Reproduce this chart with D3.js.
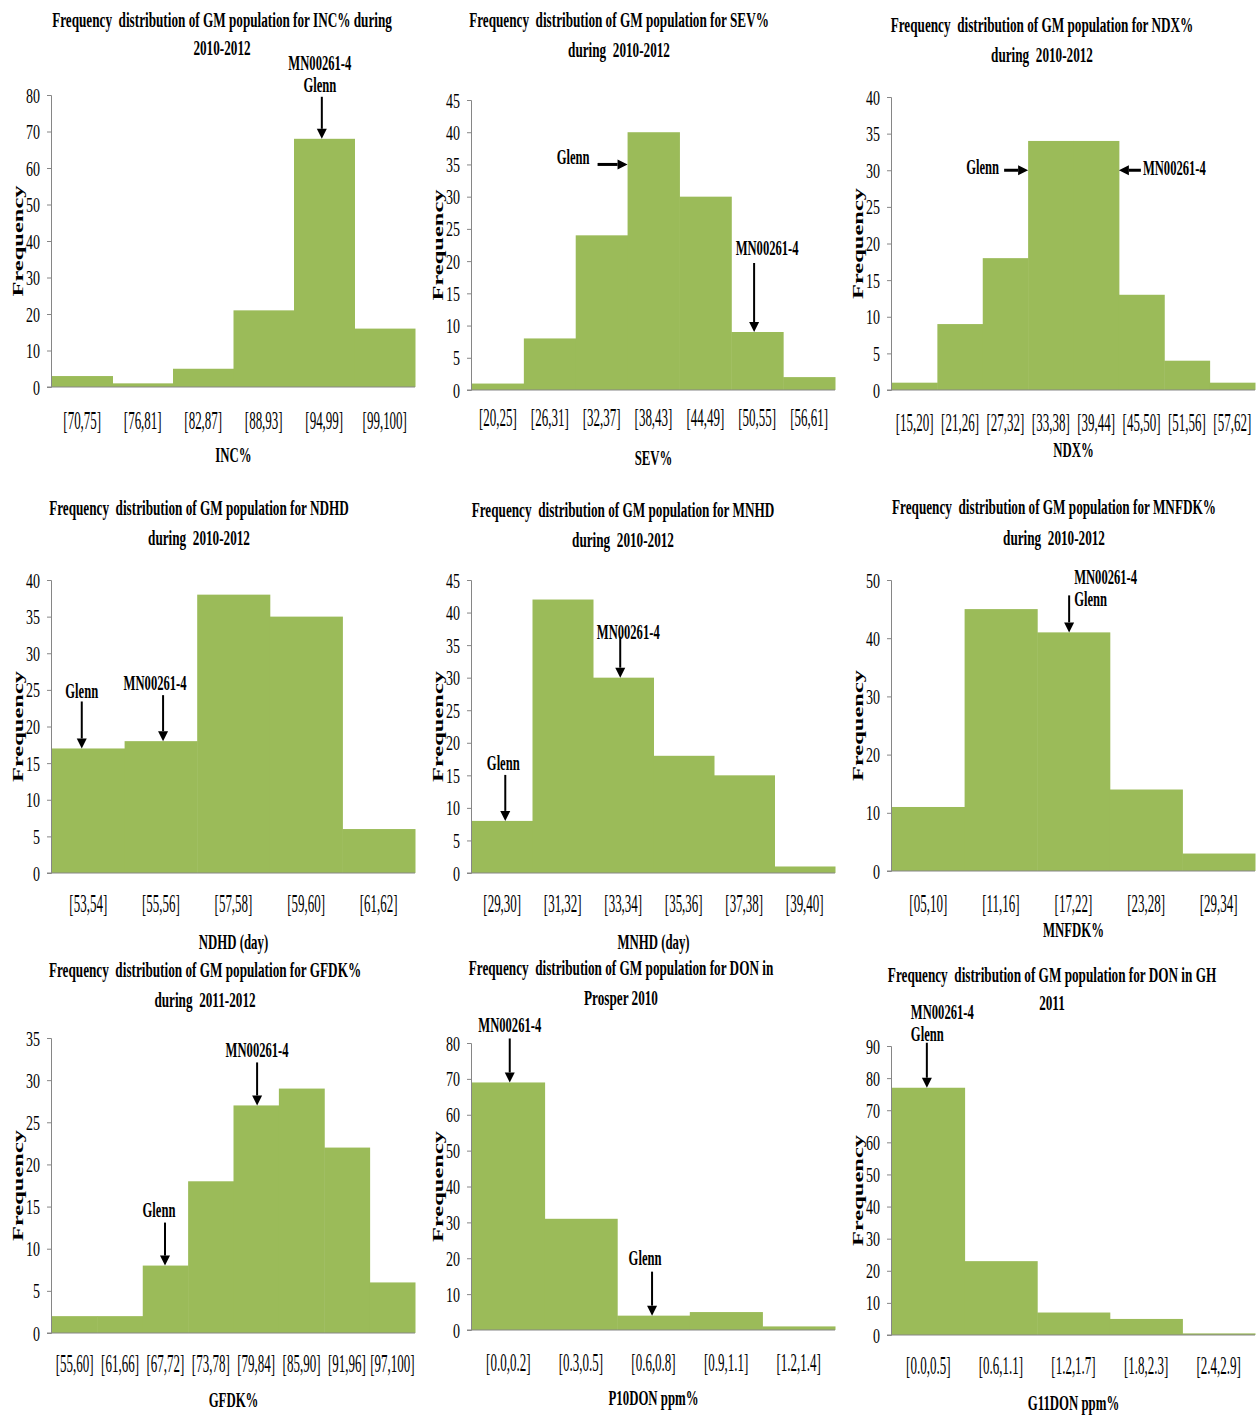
<!DOCTYPE html>
<html>
<head>
<meta charset="utf-8">
<script src="https://cdn.jsdelivr.net/npm/d3@7"></script>
<style>
  body { margin: 0; background: #fff; }
  svg { display: block; }
  text { font-family: "Liberation Serif", "Times New Roman", serif; fill: #000; white-space: pre; }
</style>
</head>
<body>
<svg id="chart" width="1256" height="1416"></svg>
<script>
// ---- data ----
const incBins = ["[70,75]", "[76,81]", "[82,87]", "[88,93]", "[94,99]", "[99,100]"];
const incFreq = [3, 1, 5, 21, 68, 16];

const sevBins = ["[20,25]", "[26,31]", "[32,37]", "[38,43]", "[44,49]", "[50,55]", "[56,61]"];
const sevFreq = [1, 8, 24, 40, 30, 9, 2];

const ndxBins = ["[15,20]", "[21,26]", "[27,32]", "[33,38]", "[39,44]", "[45,50]", "[51,56]", "[57,62]"];
const ndxFreq = [1, 9, 18, 34, 34, 13, 4, 1];

const ndhdBins = ["[53,54]", "[55,56]", "[57,58]", "[59,60]", "[61,62]"];
const ndhdFreq = [17, 18, 38, 35, 6];

const mnhdBins = ["[29,30]", "[31,32]", "[33,34]", "[35,36]", "[37,38]", "[39,40]"];
const mnhdFreq = [8, 42, 30, 18, 15, 1];

const mnfdkBins = ["[05,10]", "[11,16]", "[17,22]", "[23,28]", "[29,34]"];
const mnfdkFreq = [11, 45, 41, 14, 3];

const gfdkBins = ["[55,60]", "[61,66]", "[67,72]", "[73,78]", "[79,84]", "[85,90]", "[91,96]", "[97,100]"];
const gfdkFreq = [2, 2, 8, 18, 27, 29, 22, 6];

const p10Bins = ["[0.0,0.2]", "[0.3,0.5]", "[0.6,0.8]", "[0.9,1.1]", "[1.2,1.4]"];
const p10Freq = [69, 31, 4, 5, 1];

const g11Bins = ["[0.0,0.5]", "[0.6,1.1]", "[1.2,1.7]", "[1.8,2.3]", "[2.4,2.9]"];
const g11Freq = [77, 23, 7, 5, 0.5];

const titles = [
  ["Frequency  distribution of GM population for INC% during", "2010-2012"],
  ["Frequency  distribution of GM population for SEV%", "during  2010-2012"],
  ["Frequency  distribution of GM population for NDX%", "during  2010-2012"],
  ["Frequency  distribution of GM population for NDHD", "during  2010-2012"],
  ["Frequency  distribution of GM population for MNHD", "during  2010-2012"],
  ["Frequency  distribution of GM population for MNFDK%", "during  2010-2012"],
  ["Frequency  distribution of GM population for GFDK%", "during  2011-2012"],
  ["Frequency  distribution of GM population for DON in", "Prosper 2010"],
  ["Frequency  distribution of GM population for DON in GH", "2011"]
];
const xTitles = ["INC%", "SEV%", "NDX%", "NDHD (day)", "MNHD (day)", "MNFDK%", "GFDK%", "P10DON ppm%", "G11DON ppm%"];
const yTickMax = [80, 45, 40, 40, 45, 50, 35, 80, 90];
const yTickStep = [10, 5, 5, 5, 5, 10, 5, 10, 10];

const binsList = [incBins, sevBins, ndxBins, ndhdBins, mnhdBins, mnfdkBins, gfdkBins, p10Bins, g11Bins];
const freqList = [incFreq, sevFreq, ndxFreq, ndhdFreq, mnhdFreq, mnfdkFreq, gfdkFreq, p10Freq, g11Freq];

// which cultivar sits in which bin (bin index into the arrays above)
const marks = [
  [{ lines: ["MN00261-4", "Glenn"], bin: 4 }],
  [{ lines: ["Glenn"], bin: 3 }, { lines: ["MN00261-4"], bin: 5 }],
  [{ lines: ["Glenn"], bin: 3 }, { lines: ["MN00261-4"], bin: 4 }],
  [{ lines: ["Glenn"], bin: 0 }, { lines: ["MN00261-4"], bin: 1 }],
  [{ lines: ["MN00261-4"], bin: 2 }, { lines: ["Glenn"], bin: 0 }],
  [{ lines: ["MN00261-4", "Glenn"], bin: 2 }],
  [{ lines: ["MN00261-4"], bin: 4 }, { lines: ["Glenn"], bin: 2 }],
  [{ lines: ["MN00261-4"], bin: 0 }, { lines: ["Glenn"], bin: 2 }],
  [{ lines: ["MN00261-4", "Glenn"], bin: 0 }]
];

// ---- layout ----
const colX = [0, 420, 840];
const panelLayout = [
  { top: 95,   bottom: 387,  titleX: 222,  titleY: [20, 48],   tickY: 420,  xTitleY: 455 },
  { top: 100,  bottom: 390,  titleX: 619,  titleY: [20, 50],   tickY: 417,  xTitleY: 458 },
  { top: 97,   bottom: 390,  titleX: 1042, titleY: [25, 55],   tickY: 422,  xTitleY: 450 },
  { top: 580,  bottom: 873,  titleX: 199,  titleY: [508, 538], tickY: 903,  xTitleY: 942 },
  { top: 580,  bottom: 873,  titleX: 623,  titleY: [510, 540], tickY: 903,  xTitleY: 942 },
  { top: 580,  bottom: 871,  titleX: 1054, titleY: [507, 538], tickY: 903,  xTitleY: 930 },
  { top: 1038, bottom: 1333, titleX: 205,  titleY: [970, 1000], tickY: 1363, xTitleY: 1400 },
  { top: 1043, bottom: 1330, titleX: 621,  titleY: [968, 998],  tickY: 1362, xTitleY: 1398 },
  { top: 1046, bottom: 1335, titleX: 1052, titleY: [975, 1003], tickY: 1365, xTitleY: 1403 }
];
// arrow styling per mark: dir, position in band, tip value for side arrows, arrow length, label offset
const markStyle = [
  [{ dir: "down", frac: 0.46, len: 42, dx: -2, dy: -76, anchor: "middle" }],
  [{ dir: "right", edge: "left", at: 35, len: 30, dx: -38, dy: -7, anchor: "end" },
   { dir: "down", frac: 0.44, len: 69, dx: 13, dy: -84, anchor: "middle" }],
  [{ dir: "right", edge: "left", at: 30, len: 24, dx: -29, dy: -3, anchor: "end" },
   { dir: "left", edge: "right", at: 30, len: 22, dx: 24, dy: -2, anchor: "start" }],
  [{ dir: "down", frac: 0.41, len: 47, dx: 0, dy: -57, anchor: "middle" },
   { dir: "down", frac: 0.53, len: 46, dx: -8, dy: -58, anchor: "middle" }],
  [{ dir: "down", frac: 0.45, len: 41, dx: 8, dy: -46, anchor: "middle" },
   { dir: "down", frac: 0.55, len: 46, dx: -2, dy: -58, anchor: "middle" }],
  [{ dir: "down", frac: 0.44, len: 37, dx: 5, dy: -55, anchor: "start" }],
  [{ dir: "down", frac: 0.52, len: 43, dx: 0, dy: -55, anchor: "middle" },
   { dir: "down", frac: 0.49, len: 43, dx: -6, dy: -56, anchor: "middle" }],
  [{ dir: "down", frac: 0.52, len: 44, dx: 0, dy: -57, anchor: "middle" },
   { dir: "down", frac: 0.48, len: 44, dx: -7, dy: -58, anchor: "middle" }],
  [{ dir: "down", frac: 0.48, len: 45, dx: -16, dy: -76, anchor: "start" }]
];

const green = "#9bbb59";
const axisGrey = "#868686";
const svg = d3.select("#chart");

// condensed text: draw at origin, move and squeeze horizontally
function squeezed(g, str, x, y, size, sx, opts = {}) {
  return g.append("text")
    .attr("transform", `translate(${x},${y}) scale(${sx},1)`)
    .attr("text-anchor", opts.anchor || "middle")
    .attr("dy", "0.35em")
    .style("font-size", size + "px")
    .style("font-weight", opts.bold ? "bold" : "normal")
    .text(str);
}

function arrow(g, x1, y1, x2, y2, w) {
  // shaft from (x1,y1) to tip (x2,y2)
  const ang = Math.atan2(y2 - y1, x2 - x1);
  const hl = 10, hw = 5;
  const bx = x2 - hl * Math.cos(ang), by = y2 - hl * Math.sin(ang);
  g.append("line")
    .attr("x1", x1).attr("y1", y1).attr("x2", bx).attr("y2", by)
    .attr("stroke", "#000").attr("stroke-width", w);
  g.append("path")
    .attr("d", `M${x2},${y2}L${bx - hw * Math.sin(ang)},${by + hw * Math.cos(ang)}L${bx + hw * Math.sin(ang)},${by - hw * Math.cos(ang)}Z`)
    .attr("fill", "#000");
}

binsList.forEach((bins, p) => {
  const L = panelLayout[p];
  const cx = colX[p % 3];
  const freq = freqList[p];
  const g = svg.append("g");

  const x = d3.scaleBand().domain(bins).range([cx + 52, cx + 415]).padding(0);
  const y = d3.scaleLinear().domain([0, yTickMax[p]]).range([L.bottom, L.top]);

  // bars
  g.selectAll("rect.bar")
    .data(freq)
    .join("rect")
    .attr("class", "bar")
    .attr("x", (d, i) => x(bins[i]))
    .attr("width", x.bandwidth() + 0.5)
    .attr("y", d => y(d))
    .attr("height", d => y(0) - y(d))
    .attr("fill", green);

  // baseline
  g.append("line")
    .attr("x1", cx + 47).attr("x2", cx + 415)
    .attr("y1", y(0)).attr("y2", y(0))
    .attr("stroke", axisGrey).attr("stroke-width", 1);

  // y axis
  const yAxis = g.append("g")
    .attr("transform", `translate(${cx + 51},0)`)
    .call(d3.axisLeft(y)
      .tickValues(d3.range(0, yTickMax[p] + 1, yTickStep[p]))
      .tickSize(4).tickPadding(6));
  yAxis.select(".domain").attr("stroke", axisGrey);
  yAxis.selectAll(".tick line").attr("stroke", axisGrey);
  yAxis.selectAll(".tick text")
    .attr("x", 0).attr("dy", "0.35em")
    .attr("transform", "translate(-11,0) scale(0.7,1)")
    .style("font-size", "20px")
    .style("font-family", "Liberation Serif");

  // x tick labels
  const xAxis = g.append("g")
    .attr("transform", `translate(0,${L.tickY})`)
    .call(d3.axisBottom(x).tickSize(0).tickPadding(0));
  xAxis.select(".domain").remove();
  xAxis.selectAll(".tick text")
    .attr("y", 0).attr("dy", "0.35em")
    .attr("transform", "scale(0.52,1)")
    .style("font-size", "25px")
    .style("font-family", "Liberation Serif");

  // titles
  titles[p].forEach((t, k) => squeezed(g, t, L.titleX, L.titleY[k], 20, 0.66, { bold: true }));
  squeezed(g, xTitles[p], (cx + 52 + cx + 415) / 2, L.xTitleY, 20, 0.64, { bold: true });

  // rotated y title
  g.append("text")
    .attr("transform", `translate(${cx + 18},${(L.top + L.bottom) / 2}) rotate(-90) scale(1.75,1)`)
    .attr("text-anchor", "middle")
    .attr("dy", "0.35em")
    .style("font-size", "14px")
    .style("font-weight", "bold")
    .text("Frequency");

  // cultivar arrows
  marks[p].forEach((m, k) => {
    const s = markStyle[p][k];
    let tx, ty, sx, sy;
    if (s.dir === "down") {
      tx = x(bins[m.bin]) + s.frac * x.bandwidth();
      ty = y(freq[m.bin]);
      sx = tx; sy = ty - s.len;
      arrow(g, sx, sy, tx, ty, 2);
    } else {
      tx = s.edge === "left" ? x(bins[m.bin]) : x(bins[m.bin]) + x.bandwidth();
      ty = y(s.at);
      sy = ty;
      sx = s.dir === "right" ? tx - s.len : tx + s.len;
      arrow(g, sx, sy, tx, ty, 3);
    }
    m.lines.forEach((ln, j) => {
      squeezed(g, ln, tx + s.dx, ty + s.dy + j * 22, 20, 0.63, { bold: true, anchor: s.anchor });
    });
  });
});
</script>
</body>
</html>
